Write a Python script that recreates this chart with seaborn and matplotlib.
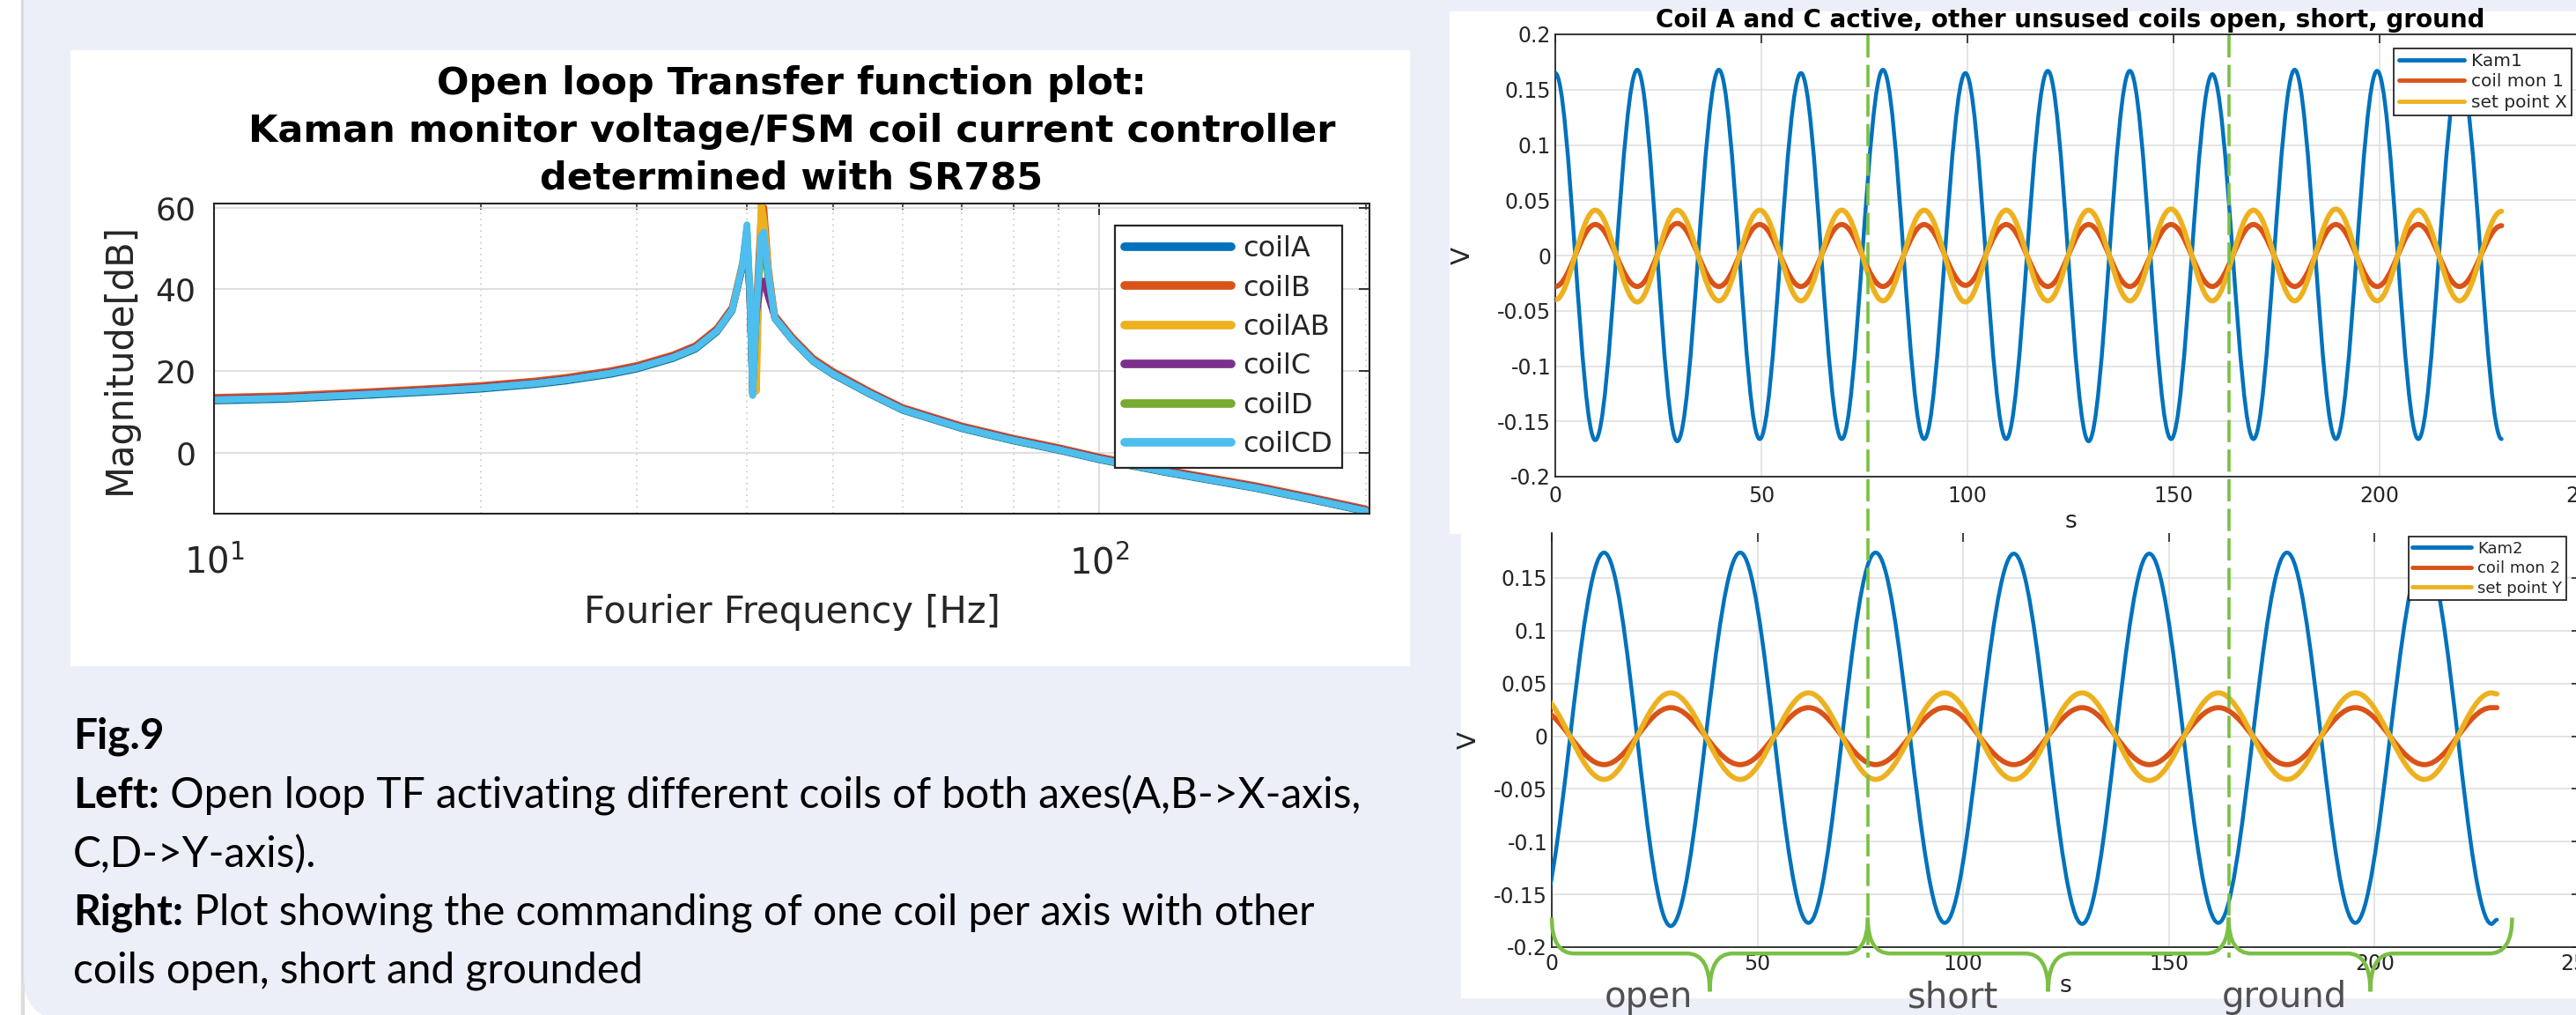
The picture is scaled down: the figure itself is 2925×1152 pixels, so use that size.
import matplotlib
matplotlib.use("Agg")
import matplotlib.pyplot as plt
import matplotlib.transforms as mtransforms
from matplotlib.path import Path
from matplotlib.patches import PathPatch, Rectangle, FancyBboxPatch
from matplotlib.lines import Line2D
import pandas as pd
import seaborn as sns

# ---------------- left: open loop TF (magnitude) ----------------
freq = [10, 12, 15, 18, 20, 23, 25, 28, 30, 33, 35, 37, 38.5, 39.5, 40.0, 40.3, 40.6, 41.0,
        41.5, 41.8, 42.3, 43, 45, 47.5, 50, 55, 60, 70, 80, 90, 100, 120, 150, 175, 200]
coilA = [12.6, 13.0, 14.0, 14.9, 15.5, 16.6, 17.5, 19.1, 20.4, 23.0, 25.3, 29.5, 34.7, 45.0, 52.0, 38.0,
         14.5, 33.0, 50.0, 52.0, 42.0, 32.8, 27.5, 22.3, 19.1, 14.3, 10.3, 5.8, 2.8, 0.5, -1.8, -5.1, -8.8, -11.8, -14.5]
coilB = [13.5, 13.9, 14.9, 15.8, 16.4, 17.5, 18.4, 20.0, 21.3, 23.9, 26.2, 30.4, 35.6, 46.0, 50.0, 39.0,
         16.0, 36.0, 58.0, 60.0, 45.0, 33.6, 28.3, 23.1, 19.9, 15.0, 11.0, 6.5, 3.5, 1.2, -1.1, -4.4, -8.1, -11.1, -13.8]
coilAB = [12.9, 13.3, 14.3, 15.2, 15.8, 16.9, 17.8, 19.4, 20.7, 23.3, 25.6, 29.8, 35.0, 45.5, 48.0, 42.0,
          30.0, 15.0, 61.0, 57.0, 44.0, 33.0, 27.7, 22.5, 19.3, 14.5, 10.5, 6.0, 3.0, 0.7, -1.6, -4.9, -8.6, -11.6, -14.3]
coilC = [13.1, 13.5, 14.5, 15.4, 16.0, 17.1, 18.0, 19.6, 20.9, 23.5, 25.8, 30.0, 35.2, 45.0, 54.0, 38.0,
         15.0, 34.0, 42.0, 42.0, 38.0, 33.2, 27.9, 22.7, 19.5, 14.7, 10.7, 6.2, 3.2, 0.9, -1.4, -4.7, -8.4, -11.4, -14.1]
coilD = [12.9, 13.3, 14.3, 15.2, 15.8, 16.9, 17.8, 19.4, 20.7, 23.3, 25.6, 29.8, 35.0, 45.5, 55.0, 40.0,
         14.0, 35.0, 50.0, 52.0, 43.0, 33.0, 27.7, 22.5, 19.3, 14.5, 10.5, 6.0, 3.0, 0.7, -1.6, -4.9, -8.6, -11.6, -14.3]
coilCD = [12.9, 13.3, 14.3, 15.2, 15.8, 16.9, 17.8, 19.4, 20.7, 23.3, 25.6, 29.8, 35.0, 45.5, 55.8, 40.0,
          14.0, 35.0, 53.0, 54.0, 43.6, 33.0, 27.7, 22.5, 19.3, 14.5, 10.5, 6.0, 3.0, 0.7, -1.6, -4.9, -8.6, -11.6, -14.3]
coil_names = ["coilA", "coilB", "coilAB", "coilC", "coilD", "coilCD"]
coil_colors = ["#0072BD", "#D95319", "#EDB120", "#7E2F8E", "#77AC30", "#4DBEEE"]
mag_ticks = [0, 20, 40, 60]
freq_ticks = [10, 100]

# ---------------- right: time traces, extrema ----------------
# top: coil A and C active (X axis)
t_top = [0, 9.7, 19.9, 29.6, 39.7, 49.6, 59.6, 69.5, 79.5, 89.5, 99.5, 109.4, 119.5, 129.4,
         139.4, 149.4, 159.4, 169.4, 179.4, 189.4, 199.4, 209.4, 219.4, 229.6]
kam1 = [0.165, -0.167, 0.168, -0.168, 0.168, -0.166, 0.165, -0.166, 0.168, -0.166, 0.165, -0.166,
        0.167, -0.168, 0.167, -0.166, 0.164, -0.166, 0.168, -0.166, 0.167, -0.166, 0.167, -0.166]
coil_mon1 = [-0.028, 0.028, -0.028, 0.029, -0.028, 0.028, -0.028, 0.028, -0.028, 0.028, -0.027, 0.028,
             -0.028, 0.028, -0.028, 0.028, -0.028, 0.028, -0.028, 0.028, -0.028, 0.028, -0.028, 0.027]
set_x = [-0.040, 0.041, -0.042, 0.041, -0.041, 0.041, -0.041, 0.041, -0.041, 0.041, -0.042, 0.041,
         -0.041, 0.041, -0.041, 0.042, -0.041, 0.041, -0.041, 0.042, -0.041, 0.041, -0.041, 0.040]
# bottom: Y axis (first extremum lies just before t=0)
t_bot = [-3.9, 12.7, 28.9, 45.8, 62.4, 78.7, 95.5, 112.3, 128.9, 145.2, 162.0, 178.7, 195.3, 212.1, 228.4, 229.7]
kam2 = [-0.180, 0.174, -0.180, 0.174, -0.177, 0.174, -0.177, 0.173, -0.178, 0.173, -0.177, 0.174,
        -0.177, 0.173, -0.178, -0.174]
coil_mon2 = [0.027, -0.027, 0.027, -0.027, 0.027, -0.027, 0.027, -0.027, 0.027, -0.027, 0.027, -0.027,
             0.027, -0.027, 0.027, 0.027]
set_y = [0.041, -0.041, 0.041, -0.041, 0.041, -0.041, 0.041, -0.041, 0.041, -0.042, 0.041, -0.041,
         0.041, -0.041, 0.041, 0.040]
trace_colors = ["#0072BD", "#D95319", "#EDB120"]
switch_t = [76.8, 164.5]
trace_end = 233.4
phases = ["open", "short", "ground"]
time_ticks = [0, 50, 100, 150, 200, 250]
time_labels = ["0", "50", "100", "150", "200", "250"]
volt_ticks = [-0.2, -0.15, -0.1, -0.05, 0, 0.05, 0.1, 0.15, 0.2]
volt_labels = ["-0.2", "-0.15", "-0.1", "-0.05", "0", "0.05", "0.1", "0.15", "0.2"]

caption = [("Fig.9", ""),
           ("Left:", " Open loop TF activating different coils of both axes(A,B->X-axis,"),
           ("", "C,D->Y-axis)."),
           ("Right:", " Plot showing the commanding of one coil per axis with other"),
           ("", "coils open, short and grounded")]

# ---------------------------------------------------------------------------------------
sns.set_theme(style="white")
plt.rcParams["font.family"] = ["DejaVu Sans"]
plt.rcParams["axes.unicode_minus"] = False

W, H = 2925, 1152
fig = plt.figure(figsize=(W / 100, H / 100), dpi=100, facecolor="white")
pix = mtransforms.Affine2D().scale(1.0 / W, -1.0 / H).translate(0, 1) + fig.transFigure

lavender = "#ECEEF8"
fig.add_artist(Rectangle((24, -10), 3, 1200, transform=pix, color="#DCDCDC", zorder=-3))
fig.add_artist(FancyBboxPatch((27, -200), 3200, 1358, boxstyle="round,pad=0,rounding_size=50",
                              transform=pix, facecolor=lavender, edgecolor="none", zorder=-3))
for x0, y0, x1, y1 in [(80, 57, 1600, 755), (1646, 13, 3000, 605), (1659, 605, 3000, 1132)]:
    fig.add_artist(Rectangle((x0, y0), x1 - x0, y1 - y0, transform=pix, color="white", zorder=-2))


def ax_at(x0, y0, x1, y1):
    return fig.add_axes([x0 / W, 1 - y1 / H, (x1 - x0) / W, (y1 - y0) / H])


ink = "#262626"

# ---------------- left chart ----------------
ax1 = ax_at(243, 231, 1555, 583)
df = pd.DataFrame({
    "freq": freq * len(coil_names),
    "mag": coilA + coilB + coilAB + coilC + coilD + coilCD,
    "coil": [c for c in coil_names for _ in freq],
})
sns.lineplot(data=df, x="freq", y="mag", hue="coil", hue_order=coil_names,
             palette=dict(zip(coil_names, coil_colors)), linewidth=5.5, sort=False,
             estimator=None, legend=False, ax=ax1)
ax1.set_xscale("log")
ax1.set_xlim(10, 202)
ax1.set_ylim(-15, 61)
ax1.set_xticks(freq_ticks)
ax1.set_yticks(mag_ticks)
ax1.grid(True, which="major", color="#DCDCDC", lw=1.3)
ax1.grid(True, which="minor", axis="x", color="#C8C8C8", lw=1.2, linestyle=(0, (1, 3)))
ax1.tick_params(which="both", direction="in", top=True, right=True, color=ink, labelcolor=ink)
ax1.tick_params(which="major", length=9, width=1.3)
ax1.tick_params(which="minor", length=5, width=1.1)
ax1.tick_params(axis="x", labelsize=29, pad=26)
ax1.tick_params(axis="y", labelsize=26, pad=15)
for s in ax1.spines.values():
    s.set_color(ink)
    s.set_linewidth(1.5)
ax1.set_xlabel("Fourier Frequency [Hz]", fontsize=30, color=ink, labelpad=10)
ax1.set_ylabel("Magnitude[dB]", fontsize=30, color=ink, labelpad=14)
ax1.set_title("Open loop Transfer function plot:\nKaman monitor voltage/FSM coil current controller\n"
              "determined with SR785", fontsize=31, fontweight="bold", color="black",
              linespacing=1.35, pad=12)
h1 = [Line2D([], [], color=c, lw=7) for c in coil_colors]
leg = ax1.legend(h1, coil_names, loc="upper right", bbox_to_anchor=(1524, 256),
                 bbox_transform=pix, borderaxespad=0, fontsize=23, handlelength=3.8,
                 handletextpad=0.4, labelspacing=0.42, borderpad=0.35, fancybox=False,
                 framealpha=1, edgecolor=ink)
leg.get_frame().set_linewidth(1.6)


# ---------------- right charts ----------------
def wave(ax, ts, vs, color, lw, z):
    # smooth half-waves between successive extrema (cubic Bezier, flat at the extrema)
    verts = [(ts[0], vs[0])]
    codes = [Path.MOVETO]
    for i in range(1, len(ts)):
        d = 0.3634 * (ts[i] - ts[i - 1])
        verts += [(ts[i - 1] + d, vs[i - 1]), (ts[i] - d, vs[i]), (ts[i], vs[i])]
        codes += [Path.CURVE4] * 3
    ax.add_patch(PathPatch(Path(verts, codes), fill=False, edgecolor=color, lw=lw,
                           zorder=z, joinstyle="round", capstyle="round"))


def style_scope(ax, ylim, yt, yl):
    ax.set_xlim(0, 250)
    ax.set_ylim(*ylim)
    ax.set_xticks(time_ticks)
    ax.set_xticklabels(time_labels)
    ax.set_yticks(yt)
    ax.set_yticklabels(yl)
    ax.grid(True, color="#DFDFDF", lw=1.2)
    ax.tick_params(direction="in", top=True, right=True, length=7, width=1.2, color=ink,
                   labelcolor=ink, labelsize=17)
    for s in ax.spines.values():
        s.set_color(ink)
        s.set_linewidth(1.3)


ax2 = ax_at(1766, 39, 2936, 541)
style_scope(ax2, (-0.2, 0.2), volt_ticks, volt_labels)
for vals, c, lw, z in [(kam1, trace_colors[0], 3.2, 3), (coil_mon1, trace_colors[1], 4.2, 4),
                       (set_x, trace_colors[2], 4.2, 5)]:
    wave(ax2, t_top, vals, c, lw, z)
ax2.tick_params(axis="x", pad=7)
ax2.set_title("Coil A and C active, other unsused coils open, short, ground", fontsize=20,
              fontweight="bold", color="black", pad=6)
ax2.set_xlabel("s", fontsize=19, color=ink, labelpad=3)
ax2.set_ylabel("V", fontsize=21, color=ink, labelpad=18)
lg2 = ax2.legend([Line2D([], [], color=c, lw=3.5) for c in trace_colors],
                 ["Kam1", "coil mon 1", "set point X"], loc="upper right",
                 bbox_to_anchor=(2920, 55), bbox_transform=pix, borderaxespad=0, fontsize=14.5,
                 handlelength=3.7, handletextpad=0.4, labelspacing=0.22, borderpad=0.25,
                 fancybox=False, framealpha=1, edgecolor=ink)
lg2.get_frame().set_linewidth(1.3)

ax3 = ax_at(1762, 605, 2930, 1075)
style_scope(ax3, (-0.2, 0.1925), volt_ticks[:-1], volt_labels[:-1])
ax3.spines["top"].set_visible(False)
for vals, c, lw, z in [(kam2, trace_colors[0], 3.2, 3), (coil_mon2, trace_colors[1], 4.2, 4),
                       (set_y, trace_colors[2], 4.2, 5)]:
    wave(ax3, t_bot, vals, c, lw, z)
ax3.tick_params(axis="x", pad=5)
ax3.set_xlabel("s", fontsize=19, color=ink, labelpad=0)
ax3.set_ylabel("V", fontsize=21, color=ink, labelpad=10)
lg3 = ax3.legend([Line2D([], [], color=c, lw=3.5) for c in trace_colors],
                 ["Kam2", "coil mon 2", "set point Y"], loc="upper right",
                 bbox_to_anchor=(2914, 609), bbox_transform=pix, borderaxespad=0, fontsize=13,
                 handlelength=3.7, handletextpad=0.4, labelspacing=0.25, borderpad=0.25,
                 fancybox=False, framealpha=1, edgecolor=ink)
lg3.get_frame().set_linewidth(1.3)

# switch markers: dashed lines through both plots and braces under the lower one
green = "#7BBF45"
vline_tr = mtransforms.blended_transform_factory(ax3.transData, pix)
for t in switch_t:
    fig.add_artist(Line2D([t, t], [40, 1087], transform=vline_tr, color=green, lw=2.6,
                          dashes=(7, 2.3), zorder=10))

bounds = [0] + switch_t + [trace_end]
w = 5.5
y_end, y_flat, y_tip = -0.172, -0.206, -0.242
for a, b in zip(bounds[:-1], bounds[1:]):
    m = (a + b) / 2
    verts = [(a, y_end), (a, y_flat), (a + w, y_flat), (m - w, y_flat), (m, y_flat), (m, y_tip),
             (m, y_flat), (m + w, y_flat), (b - w, y_flat), (b, y_flat), (b, y_end)]
    codes = [Path.MOVETO, Path.CURVE3, Path.CURVE3, Path.LINETO, Path.CURVE3, Path.CURVE3,
             Path.CURVE3, Path.CURVE3, Path.LINETO, Path.CURVE3, Path.CURVE3]
    ax3.add_patch(PathPatch(Path(verts, codes), fill=False, edgecolor=green, lw=3.2,
                            clip_on=False, zorder=11))

for name, x in zip(phases, [1872, 2218, 2594]):
    fig.text(x / W, 1 - 1132 / H, name, ha="center", va="center", fontsize=29, color="#505050")

# ---------------- caption ----------------
renderer = fig.canvas.get_renderer()
for (bold, rest), base in zip(caption, [850, 917, 984, 1050, 1115]):
    x = 83
    if bold:
        tb = fig.text(x, base, bold, transform=pix, fontsize=34.5, fontweight="bold",
                      family=["Lato", "DejaVu Sans"], va="baseline", color="black")
        x = tb.get_window_extent(renderer).x1
    if rest:
        fig.text(x, base, rest, transform=pix, fontsize=34.5, family=["Lato", "DejaVu Sans"],
                 va="baseline", color="black")

plt.savefig("out.png", dpi=100, facecolor=fig.get_facecolor())
